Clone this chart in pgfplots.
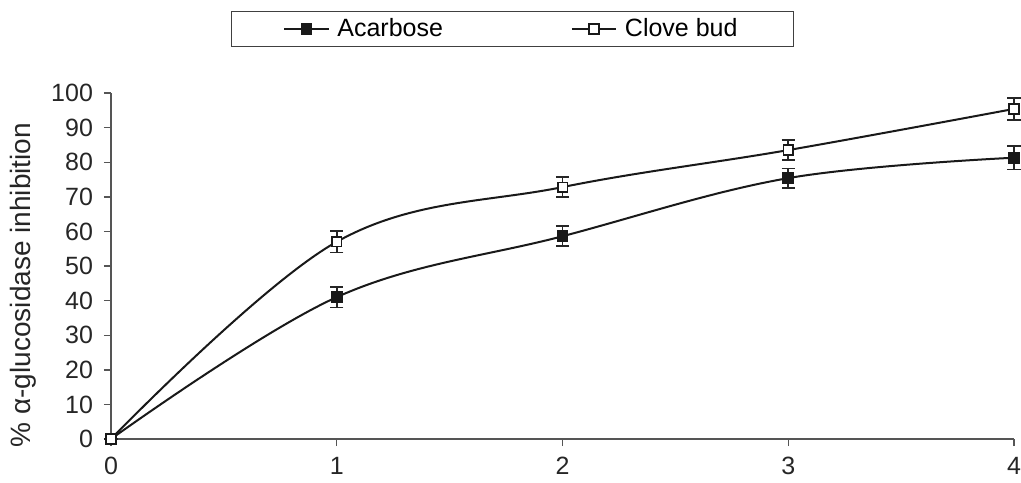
\documentclass[border=0pt]{standalone}
\usepackage{fontspec}
\setmainfont{Liberation Sans}
\usepackage{pgfplots}
\pgfplotsset{compat=1.18}

\definecolor{axisgray}{HTML}{555555}

\begin{document}
\begin{tikzpicture}
\begin{axis}[
  scale only axis,
  width=451.5pt, height=173pt,
  xmin=0, xmax=4, ymin=0, ymax=100,
  axis lines*=left,
  axis line style={axisgray, line width=0.7pt},
  xtick={0,1,2,3,4}, ytick={0,10,...,100},
  tick style={axisgray, line width=0.7pt},
  tick align=outside,
  major tick length=3.5pt,
  /pgf/number format/assume math mode=true,
  tick label style={font=\fontsize{12.5pt}{14pt}\selectfont, text=black!85},
  xticklabel style={yshift=-2pt},
  yticklabel style={xshift=-2pt},
  every axis y label/.style={at={(axis description cs:-0.0975,0.445)}, rotate=90, anchor=center},
  ylabel={\% α-glucosidase inhibition},
  label style={font=\fontsize{14pt}{16pt}\selectfont, text=black!85},
  clip=false,
  legend columns=2,
  legend style={
    at={(axis description cs:0.4446,1.185)}, anchor=center,
    draw=black!75, line width=0.6pt,
    font=\fontsize{12.5pt}{14pt}\selectfont,
    inner xsep=26pt, inner ysep=1.5pt,
    /tikz/every even column/.append style={column sep=62pt},
    /tikz/every odd column/.append style={column sep=2pt},
  },
  legend image code/.code={%
    \draw[mark repeat=2,mark phase=2] plot coordinates {(0pt,0pt)(11pt,0pt)(22pt,0pt)};%
  },
  error bars/y dir=both,
  error bars/y explicit,
  error bars/error bar style={line width=0.9pt, black!85},
  error bars/error mark options={rotate=90, mark size=3.3pt, line width=0.9pt, black!85},
]
% Acarbose: filled squares
\addplot[black!90, line width=1pt, smooth, tension=0.6,
  mark=square*, mark size=2.4pt, mark options={fill=black!90, solid}]
  coordinates {
    (0,0) +- (0,0)
    (1,41.0) +- (0,3.0)
    (2,58.6) +- (0,2.9)
    (3,75.4) +- (0,2.8)
    (4,81.3) +- (0,3.4)
  };
\addlegendentry{Acarbose}
% Clove bud: open squares
\addplot[black!90, line width=1pt, smooth, tension=0.6,
  mark=square*, mark size=2.4pt, mark options={fill=white, draw=black!90, line width=0.8pt, solid}]
  coordinates {
    (0,0) +- (0,0)
    (1,57.0) +- (0,3.1)
    (2,72.8) +- (0,2.9)
    (3,83.5) +- (0,2.9)
    (4,95.4) +- (0,3.1)
  };
\addlegendentry{Clove bud}
\end{axis}
\pgfresetboundingbox
\path (-55.5pt,-21.5pt) rectangle (455pt,219.5pt);
\end{tikzpicture}
\end{document}
